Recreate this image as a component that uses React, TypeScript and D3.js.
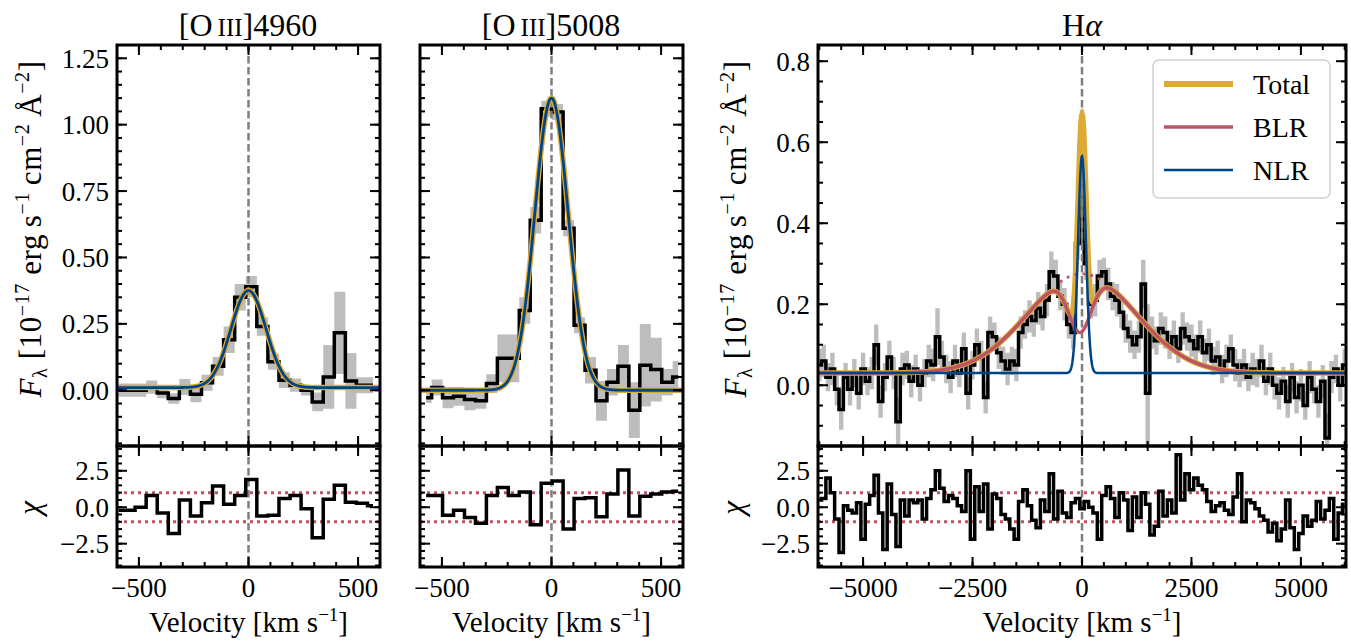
import React from "react";
import * as d3 from "d3";

// ---------- [O III] 4960 ----------
const o4960Vel = [-593, -543, -492, -442, -391, -341, -290, -240, -189, -139, -88, -38, 13, 63, 114, 164, 215, 265, 316, 366, 417, 467, 518, 568];
const o4960Flux = [0.0, 0.0, 0.0, 0.012, -0.01, -0.031, 0.012, -0.015, 0.028, 0.09, 0.19, 0.35, 0.39, 0.24, 0.107, 0.038, 0.019, 0.0, -0.044, 0.05, 0.216, 0.035, 0.019, 0.019];
const o4960Err = [0.025, 0.025, 0.025, 0.025, 0.02, 0.02, 0.03, 0.03, 0.03, 0.035, 0.05, 0.05, 0.04, 0.035, 0.03, 0.03, 0.025, 0.02, 0.035, 0.12, 0.155, 0.105, 0.03, 0.03];
const o4960Chi = [-0.2, -0.2, 0.0, 0.8, -0.4, -1.8, 0.5, -0.6, 0.3, 1.45, 0.2, 0.8, 1.9, -0.6, -0.55, 0.6, 0.8, -0.1, -2.1, 0.55, 1.5, 0.35, 0.27, 0.1];
// continuum, amplitude, centre, sigma
const o4960Fit = [0.01, 0.365, 0, 80];

// ---------- [O III] 5008 ----------
const o5008Vel = [-572, -522, -472, -422, -372, -322, -272, -222, -172, -122, -72, -22, 28, 78, 128, 178, 228, 278, 328, 378, 428, 478, 528, 578];
const o5008Flux = [-0.028, 0.01, -0.028, -0.023, -0.035, -0.04, 0.025, 0.12, 0.12, 0.3, 0.64, 1.06, 1.048, 0.61, 0.245, 0.075, -0.04, 0.03, 0.09, -0.075, 0.094, 0.078, 0.03, 0.05];
const o5008Err = [0.02, 0.03, 0.04, 0.035, 0.04, 0.03, 0.035, 0.09, 0.09, 0.05, 0.05, 0.03, 0.03, 0.03, 0.03, 0.05, 0.075, 0.05, 0.08, 0.105, 0.155, 0.12, 0.05, 0.06];
const o5008Chi = [0.8, 0.8, -0.55, -0.2, -0.7, -1.1, 0.8, 1.35, 0.8, 1.05, -1.2, 1.65, 1.8, -1.5, 0.6, 0.65, -0.65, 0.9, 2.55, -0.6, 0.75, 0.9, 1.05, 1.1];
const o5008Fit = [0.0, 1.1, 0, 76];

// ---------- H alpha (100 km/s bins from -6000 to 6000) ----------
const haVel = d3.range(-6000, 6001, 100);
const haFlux = [
  0.05, 0.06, 0.02, 0.04, -0.01, -0.06, 0.02, -0.01, 0.03, -0.02,
  0.04, 0.01, 0.03, 0.10, -0.04, 0.02, 0.07, 0.03, -0.09, 0.04,
  0.05, 0.01, 0.04, 0.0, 0.03, 0.06, 0.05, 0.12, 0.07, 0.04,
  0.02, 0.06, 0.03, 0.09, -0.02, 0.05, 0.10, 0.07, -0.03, 0.13,
  0.12, 0.08, 0.06, 0.04, 0.06, 0.05, 0.13, 0.15, 0.17, 0.16,
  0.19, 0.17, 0.21, 0.28, 0.27, 0.22, 0.20, 0.15, 0.13, 0.35,
  0.64, 0.30, 0.20, 0.21, 0.27, 0.28, 0.25, 0.22, 0.21, 0.18,
  0.14, 0.12, 0.10, 0.12, 0.25, -0.02, 0.13, 0.11, 0.14, 0.13,
  0.10, 0.12, 0.09, 0.14, 0.12, 0.11, 0.09, 0.12, 0.08, 0.10,
  0.06, 0.07, 0.04, 0.06, 0.09, 0.05, 0.03, 0.05, 0.02, 0.04,
  0.03, 0.06, 0.01, 0.04, 0.0, -0.02, 0.01, -0.04, 0.02, -0.03,
  0.0, -0.05, 0.02, -0.01, -0.04, 0.01, -0.13, 0.02, 0.04, 0.0,
  0.05,
];
const haErr = [
  0.04, 0.04, 0.035, 0.04, 0.04, 0.05, 0.035, 0.04, 0.035, 0.04,
  0.04, 0.035, 0.04, 0.05, 0.04, 0.035, 0.04, 0.04, 0.06, 0.04,
  0.035, 0.04, 0.035, 0.04, 0.035, 0.04, 0.04, 0.07, 0.04, 0.035,
  0.04, 0.04, 0.035, 0.04, 0.04, 0.035, 0.04, 0.04, 0.04, 0.04,
  0.035, 0.04, 0.035, 0.04, 0.035, 0.04, 0.04, 0.035, 0.04, 0.04,
  0.04, 0.035, 0.04, 0.05, 0.04, 0.035, 0.04, 0.035, 0.04, 0.04,
  0.04, 0.04, 0.035, 0.04, 0.04, 0.035, 0.04, 0.035, 0.04, 0.04,
  0.035, 0.04, 0.035, 0.04, 0.06, 0.22, 0.04, 0.035, 0.04, 0.04,
  0.035, 0.04, 0.035, 0.04, 0.035, 0.04, 0.035, 0.04, 0.035, 0.04,
  0.035, 0.04, 0.035, 0.04, 0.035, 0.04, 0.035, 0.04, 0.035, 0.04,
  0.035, 0.04, 0.035, 0.04, 0.035, 0.04, 0.035, 0.04, 0.035, 0.04,
  0.04, 0.035, 0.04, 0.035, 0.04, 0.04, 0.06, 0.04, 0.035, 0.04,
  0.04,
];
const haChi = [
  0.5, 0.6, 2.0, 1.0, -0.8, -3.1, 0.1, -0.2, -0.4, 0.3,
  -2.2, 0.2, 0.8, 2.2, -0.4, -2.9, 1.6, -0.5, -2.7, 0.5,
  -0.6, 0.5, 0.3, 0.5, -0.8, 0.6, 1.2, 2.5, 1.3, 0.4,
  0.8, 0.6, 0.1, -0.3, 2.5, -2.2, 1.4, -0.3, 1.6, -1.5,
  0.9, 0.6, -0.5, -0.8, -1.5, -2.2, 0.4, 1.2, 0.1, -0.9,
  -1.4, 0.5, -0.3, 2.3, -0.8, 1.1, -0.4, -0.7, 0.3, 0.6,
  -0.1, 0.4, 0.0, -0.4, -2.2, 0.8, 1.4, 0.6, -0.7, 1.0,
  0.5, -1.6, 0.7, -0.7, 1.0, 0.2, -1.9, -1.3, 1.1, -0.6,
  0.5, -0.4, 3.6, 0.5, 2.3, 1.2, 2.0, 1.5, 1.2, 0.4,
  -0.3, 0.1, 0.3, -0.2, -0.5, 0.7, 2.3, -1.0, 0.5, 0.3,
  -0.1, -0.6, -0.9, -1.7, -1.1, -2.3, -1.5, 0.5, -1.4, -2.9,
  -1.8, -0.6, -1.3, -0.9, 0.4, -0.8, -0.2, 0.6, -2.2, -0.4,
  0.2,
];
// continuum, BLR amplitude, BLR sigma, absorber depth, absorber centre, absorber sigma, NLR amplitude, NLR sigma
const haFit = [0.03, 0.245, 1220, 0.59, -50, 270, 0.535, 90];

const legendNames = ["Total", "BLR", "NLR"];

const C_TOTAL = "#DDAA33";
const C_BLR = "#BB5566";
const C_NLR = "#004488";
const FONT = "Liberation Serif, DejaVu Serif, serif";

const TOP = 45, MID = 446, BOT = 567;

const gauss = (v: number, a: number, mu: number, s: number) => a * Math.exp(-0.5 * ((v - mu) / s) ** 2);
const fmt = (f: string) => (v: number) => d3.format(f)(v).replace("-", "\u2212");

type Curve = { pts: [number, number][]; color: string; width: number; dash?: string };

function Panel(props: {
  id: string;
  xs: d3.ScaleLinear<number, number>;
  ys: d3.ScaleLinear<number, number>;
  yr: d3.ScaleLinear<number, number>;
  vel: number[]; flux: number[]; err: number[]; chi: number[];
  curves: Curve[];
  xMajor: number[]; xMinor: number[];
  yMajor: number[]; yMinor: number[]; yFmt: (v: number) => string;
  showY: boolean;
}) {
  const { id, xs, ys, yr, vel, flux, err, chi, curves } = props;
  const [l, r] = xs.range();
  const idx = vel.map((_, i) => i);
  const area = d3.area<number>().x(i => xs(vel[i])).y0(i => ys(flux[i] - err[i])).y1(i => ys(flux[i] + err[i])).curve(d3.curveStep);
  const step = d3.line<number>().x(i => xs(vel[i])).y(i => ys(flux[i])).curve(d3.curveStep);
  const stepChi = d3.line<number>().x(i => xs(vel[i])).y(i => yr(chi[i])).curve(d3.curveStep);
  const cline = d3.line<[number, number]>().x(d => xs(d[0])).y(d => ys(d[1]));
  const resTicks = [-2.5, 0, 2.5];
  const resMinor = d3.range(-4, 4.01, 0.5);

  const ticks: JSX.Element[] = [];
  const addX = (vals: number[], len: number, t: number, b: number, k: string) =>
    vals.forEach((v, i) => {
      const x = xs(v);
      if (x < l - 0.5 || x > r + 0.5) return;
      ticks.push(<line key={`${k}b${i}`} x1={x} x2={x} y1={b} y2={b - len} />);
      ticks.push(<line key={`${k}t${i}`} x1={x} x2={x} y1={t} y2={t + len} />);
    });
  const addY = (vals: number[], sc: d3.ScaleLinear<number, number>, len: number, k: string) =>
    vals.forEach((v, i) => {
      const y = sc(v);
      const [b, t] = sc.range();
      if (y > b + 0.5 || y < t - 0.5) return;
      ticks.push(<line key={`${k}l${i}`} x1={l} x2={l + len} y1={y} y2={y} />);
      ticks.push(<line key={`${k}r${i}`} x1={r} x2={r - len} y1={y} y2={y} />);
    });
  addX(props.xMajor, 10, TOP, MID, "xm");
  addX(props.xMinor, 5, TOP, MID, "xn");
  addX(props.xMajor, 10, MID, BOT, "rxm");
  addX(props.xMinor, 5, MID, BOT, "rxn");
  addY(props.yMajor, ys, 10, "ym");
  addY(props.yMinor, ys, 5, "yn");
  addY(resTicks, yr, 10, "rm");
  addY(resMinor, yr, 5, "rn");

  return (
    <g>
      <defs>
        <clipPath id={`${id}-main`}><rect x={l} y={TOP} width={r - l} height={MID - TOP} /></clipPath>
        <clipPath id={`${id}-res`}><rect x={l} y={MID} width={r - l} height={BOT - MID} /></clipPath>
      </defs>
      <g clipPath={`url(#${id}-main)`}>
        <path d={area(idx) || ""} fill="#bdbdbd" stroke="none" />
        <path d={step(idx) || ""} fill="none" stroke="#000" strokeWidth={3.5} strokeLinejoin="miter" />
        <line x1={xs(0)} x2={xs(0)} y1={TOP} y2={MID} stroke="#7f7f7f" strokeWidth={2.5} strokeDasharray="7.5,3.5" />
        {curves.map((c, i) => (
          <path key={i} d={cline(c.pts) || ""} fill="none" stroke={c.color} strokeWidth={c.width} strokeDasharray={c.dash} strokeLinecap={c.dash ? "round" : "butt"} />
        ))}
      </g>
      <g clipPath={`url(#${id}-res)`}>
        <line x1={xs(0)} x2={xs(0)} y1={MID} y2={BOT} stroke="#7f7f7f" strokeWidth={2.5} strokeDasharray="7.5,3.5" />
        {[-1, 1].map(v => (
          <line key={v} x1={l} x2={r} y1={yr(v)} y2={yr(v)} stroke={C_BLR} strokeWidth={3} strokeDasharray="3,4" />
        ))}
        <path d={stepChi(idx) || ""} fill="none" stroke="#000" strokeWidth={3.5} />
      </g>
      <g stroke="#000" strokeWidth={2}>{ticks}</g>
      <rect x={l} y={TOP} width={r - l} height={MID - TOP} fill="none" stroke="#000" strokeWidth={3} />
      <rect x={l} y={MID} width={r - l} height={BOT - MID} fill="none" stroke="#000" strokeWidth={3} />
      {props.showY && props.yMajor.map(v => (
        <text key={`yl${v}`} x={l - 8} y={ys(v)} dy="0.35em" textAnchor="end" fontSize={27}>{props.yFmt(v)}</text>
      ))}
      {props.showY && resTicks.map(v => (
        <text key={`rl${v}`} x={l - 8} y={yr(v)} dy="0.35em" textAnchor="end" fontSize={27}>{fmt(".1f")(v)}</text>
      ))}
      {props.xMajor.map(v => (
        <text key={`xl${v}`} x={xs(v)} y={597} textAnchor="middle" fontSize={27}>{fmt("d")(v)}</text>
      ))}
      <text x={(l + r) / 2} y={632} textAnchor="middle" fontSize={29}>
        Velocity [km s<tspan fontSize={19} dy={-11}>{"\u22121"}</tspan><tspan dy={11}>]</tspan>
      </text>
    </g>
  );
}

function YLabel({ x, y }: { x: number; y: number }) {
  const s = 20;
  return (
    <text transform={`translate(${x},${y}) rotate(-90)`} textAnchor="middle" fontSize={31} letterSpacing={0.6}>
      <tspan fontStyle="italic">F</tspan>
      <tspan fontSize={s} dy={6}>λ</tspan>
      <tspan dy={-6}>{" [10"}</tspan>
      <tspan fontSize={s} dy={-12}>{"\u221217"}</tspan>
      <tspan dy={12}>{" erg\u2009s"}</tspan>
      <tspan fontSize={s} dy={-12}>{"\u22121"}</tspan>
      <tspan dy={12}>{"\u2009cm"}</tspan>
      <tspan fontSize={s} dy={-12}>{"\u22122"}</tspan>
      <tspan dy={12}>{"\u2009Å"}</tspan>
      <tspan fontSize={s} dy={-12}>{"\u22122"}</tspan>
      <tspan dy={12}>]</tspan>
    </text>
  );
}

function ChiLabel({ x, y }: { x: number; y: number }) {
  return (
    <text transform={`translate(${x},${y}) rotate(-90)`} textAnchor="middle" fontSize={31} fontStyle="italic">χ</text>
  );
}

export default function App() {
  const xsO1 = d3.scaleLinear().domain([-600, 600]).range([117, 380]);
  const xsO2 = d3.scaleLinear().domain([-600, 600]).range([420, 683]);
  const xsH = d3.scaleLinear().domain([-6030, 6030]).range([818, 1346]);
  const ysO = d3.scaleLinear().domain([-0.21, 1.3]).range([MID, TOP]);
  const ysH = d3.scaleLinear().domain([-0.15, 0.84]).range([MID, TOP]);
  const yr = d3.scaleLinear().domain([-4.1, 4.2]).range([BOT, MID]);

  const gridO = d3.range(-600, 600.1, 3);
  const gridH = d3.range(-6030, 6030.1, 8);

  const oCurves = (fit: number[]): Curve[] => {
    const pts = gridO.map(v => [v, fit[0] + gauss(v, fit[1], fit[2], fit[3])] as [number, number]);
    return [
      { pts, color: C_TOTAL, width: 5.5 },
      { pts, color: C_NLR, width: 2.8 },
    ];
  };

  const [cont, aB, sB, dA, muA, sA, aN, sN] = haFit;
  const blrRaw = (v: number) => gauss(v, aB, 0, sB);
  const absorb = (v: number) => 1 - gauss(v, dA, muA, sA);
  const nlr = (v: number) => gauss(v, aN, 0, sN);
  const hCurves: Curve[] = [
    { pts: gridH.map(v => [v, cont + blrRaw(v) * absorb(v) + nlr(v)] as [number, number]), color: C_TOTAL, width: 5.5 },
    { pts: gridH.filter(v => Math.abs(v) < 480).map(v => [v, cont + blrRaw(v)] as [number, number]), color: C_BLR, width: 3, dash: "0.1,8" },
    { pts: gridH.map(v => [v, cont + blrRaw(v) * absorb(v)] as [number, number]), color: C_BLR, width: 3.5 },
    { pts: gridH.map(v => [v, cont + nlr(v)] as [number, number]), color: C_NLR, width: 2.5 },
  ];

  const oYMajor = [0, 0.25, 0.5, 0.75, 1.0, 1.25];
  const oYMinor = d3.range(-0.2, 1.31, 0.05);
  const hYMajor = [0, 0.2, 0.4, 0.6, 0.8];
  const hYMinor = d3.range(-0.15, 0.841, 0.05);
  const oXMajor = [-500, 0, 500];
  const oXMinor = d3.range(-600, 601, 100);
  const hXMajor = [-5000, -2500, 0, 2500, 5000];
  const hXMinor = d3.range(-6000, 6001, 500);

  const legendColors = [C_TOTAL, C_BLR, C_NLR];
  const legendWidths = [6, 3.5, 2.5];

  return (
    <svg width={1351} height={641} style={{ position: "absolute", left: 0, top: 0, background: "#fff", fontFamily: FONT }}>
      <rect x={0} y={0} width={1351} height={641} fill="#fff" />
      <Panel id="p1" xs={xsO1} ys={ysO} yr={yr} vel={o4960Vel} flux={o4960Flux} err={o4960Err} chi={o4960Chi}
        curves={oCurves(o4960Fit)} xMajor={oXMajor} xMinor={oXMinor} yMajor={oYMajor} yMinor={oYMinor} yFmt={fmt(".2f")} showY={true} />
      <Panel id="p2" xs={xsO2} ys={ysO} yr={yr} vel={o5008Vel} flux={o5008Flux} err={o5008Err} chi={o5008Chi}
        curves={oCurves(o5008Fit)} xMajor={oXMajor} xMinor={oXMinor} yMajor={oYMajor} yMinor={oYMinor} yFmt={fmt(".2f")} showY={false} />
      <Panel id="p3" xs={xsH} ys={ysH} yr={yr} vel={haVel} flux={haFlux} err={haErr} chi={haChi}
        curves={hCurves} xMajor={hXMajor} xMinor={hXMinor} yMajor={hYMajor} yMinor={hYMinor} yFmt={fmt(".1f")} showY={true} />

      <YLabel x={41} y={229} />
      <YLabel x={746} y={229} />
      <ChiLabel x={40} y={508} />
      <ChiLabel x={743} y={508} />

      <text x={248} y={36} textAnchor="middle" fontSize={32}>
        [O<tspan fontSize={25}>{"\u2009III"}</tspan>]4960
      </text>
      <text x={551} y={36} textAnchor="middle" fontSize={32}>
        [O<tspan fontSize={25}>{"\u2009III"}</tspan>]5008
      </text>
      <text x={1082} y={36} textAnchor="middle" fontSize={32}>
        H<tspan fontStyle="italic">α</tspan>
      </text>

      <g>
        <rect x={1153} y={60} width={177} height={138} rx={6} fill="#fff" fillOpacity={0.85} stroke="#d0d0d0" strokeWidth={1.5} />
        {legendNames.map((n, i) => (
          <g key={n}>
            <line x1={1164} x2={1233} y1={84 + i * 43} y2={84 + i * 43} stroke={legendColors[i]} strokeWidth={legendWidths[i]} />
            <text x={1253} y={84 + i * 43} dy="0.35em" fontSize={28}>{n}</text>
          </g>
        ))}
      </g>
    </svg>
  );
}
